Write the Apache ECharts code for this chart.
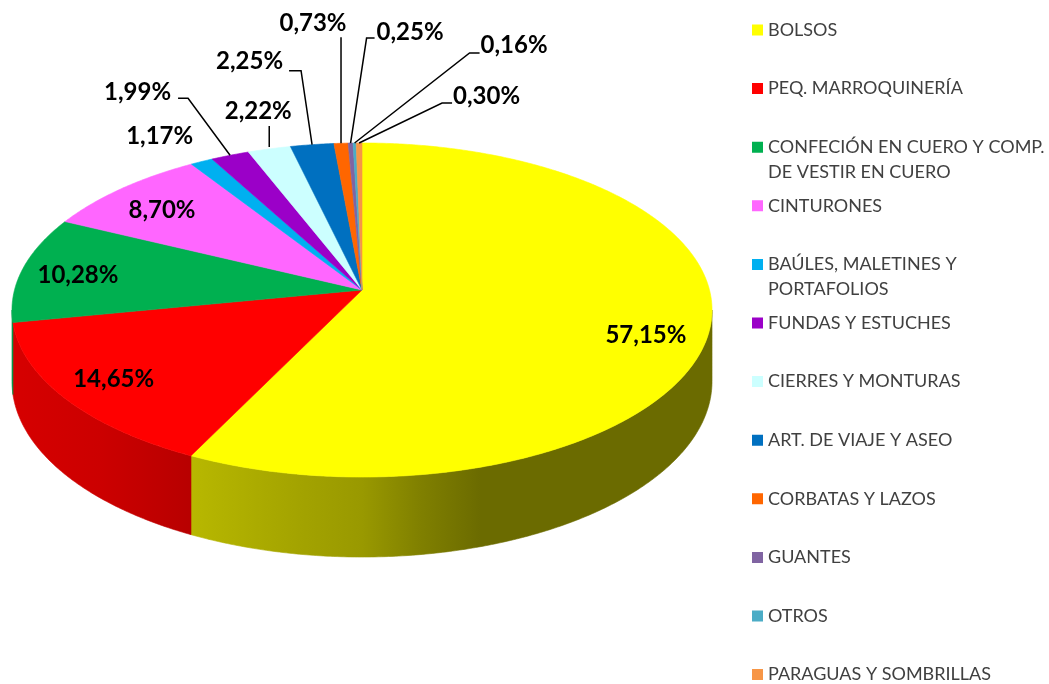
<!DOCTYPE html>
<html><head><meta charset="utf-8">
<script src="https://cdn.jsdelivr.net/npm/echarts@6/dist/echarts.min.js"></script>
<style>html,body{margin:0;padding:0;background:#fff}#c{width:1049px;height:684px}</style>
</head><body><div id="c"></div>
<script>
// ---- data ----
const categories = [
  'BOLSOS',
  'PEQ. MARROQUINERÍA',
  'CONFECIÓN EN CUERO Y COMP.\nDE VESTIR EN CUERO',
  'CINTURONES',
  'BAÚLES, MALETINES Y\nPORTAFOLIOS',
  'FUNDAS Y ESTUCHES',
  'CIERRES Y MONTURAS',
  'ART. DE VIAJE Y ASEO',
  'CORBATAS Y LAZOS',
  'GUANTES',
  'OTROS',
  'PARAGUAS Y SOMBRILLAS'
];
const shares = [57.15, 14.65, 10.28, 8.70, 1.17, 1.99, 2.22, 2.25, 0.73, 0.25, 0.16, 0.30];

// ---- styles ----
const colors = ['#FFFF00','#FF0000','#00B050','#FF66FF','#00B0F0','#9B00C8','#CCFFFF','#0070C0','#FF6600','#8064A2','#4BACC6','#F79646'];
// perspective pie geometry (layout)
const G = {cx: 362, cy: 290, A: 347.5, B: 129.9, q: 0.1198, T: 70.4, x0: 12, x1: 712};
// side-wall lighting across the pie width: [offset, brightness]
const wallLight = [[0,0.84],[0.126,0.80],[0.254,0.72],[0.411,0.64],[0.5,0.60],[0.583,0.50],[0.669,0.42],[1,0.42]];
// label placement (layout, relative to slice)
const labelLayout = [
  {r: 0.82, d: [0, 14]},
  {r: 0.82, d: [-8, 2]},
  {r: 0.82, d: [-5, 2]},
  {r: 0.82, d: [0, 4]},
  {text: [-42, -25], align: 'center'},
  {line: [[-42, -57], [-52, -57]], text: [-59, -63], align: 'right'},
  {start: [0, -2], line: [[0, -23]], text: [-11, -38], align: 'center'},
  {line: [[-11, -74], [-23, -74]], text: [-29, -83], align: 'right'},
  {line: [[0, -106]], text: [-28, -120], align: 'center'},
  {line: [[16, -105], [24, -105]], text: [26, -111], align: 'left'},
  {line: [[115, -90], [125, -90]], text: [126, -98], align: 'left'},
  {line: [[83, -40], [93, -40]], text: [94, -47], align: 'left'}
];

const total = shares.reduce((a, b) => a + b, 0);
const cumStart = shares.map((_, i) => shares.slice(0, i).reduce((a, b) => a + b, 0));

function proj(th, r, d) {
  const u = r * Math.sin(th), v = -r * Math.cos(th), w = 1 - G.q * v;
  return [G.cx + G.A * u / w, (G.cy + G.B * v + d) / w];
}
function shade(hex, k) {
  const n = parseInt(hex.slice(1), 16);
  const r = Math.round(((n >> 16) & 255) * k), g = Math.round(((n >> 8) & 255) * k), b = Math.round((n & 255) * k);
  return 'rgb(' + r + ',' + g + ',' + b + ')';
}
function arc(a1, a2, r, d) {
  const n = Math.max(2, Math.ceil((a2 - a1) / (Math.PI / 360)));
  const pts = [];
  for (let k = 0; k <= n; k++) pts.push(proj(a1 + (a2 - a1) * k / n, r, d));
  return pts;
}
const frontA = Math.acos(-G.q), frontB = 2 * Math.PI - Math.acos(-G.q);

function makeRender(i) {
  return function (params, api) {
    const val = api.value(0);
    const a1 = cumStart[i] / total * 2 * Math.PI;
    const a2 = (cumStart[i] + val) / total * 2 * Math.PI;
    const col = colors[i];
    const children = [];
    // side wall (front-facing part)
    const wa = Math.max(a1, frontA), wb = Math.min(a2, frontB);
    if (wa < wb) {
      const top = arc(wa, wb, 1, 0);
      const bot = arc(wa, wb, 1, G.T).reverse();
      const fill = {
        type: 'linear', x: G.x0, y: 0, x2: G.x1, y2: 0, global: true,
        colorStops: wallLight.map(s => ({offset: s[0], color: shade(col, s[1])}))
      };
      children.push({type: 'polygon', z2: 1, shape: {points: top.concat(bot)}, style: {fill: fill, stroke: fill, lineWidth: 0.6}});
    }
    // top face
    const face = [proj(0, 0, 0)].concat(arc(a1, a2, 1, 0));
    children.push({type: 'polygon', z2: 2, shape: {points: face}, style: {fill: col, stroke: col, lineWidth: 0.6}});
    // label
    const L = labelLayout[i];
    const txt = val.toFixed(2).replace('.', ',') + '%';
    const mid = (a1 + a2) / 2;
    if (L.r) {
      const p = proj(mid, L.r, 0);
      children.push({type: 'text', z2: 5, x: p[0] + L.d[0], y: p[1] + L.d[1],
        style: {text: txt, fill: '#000', font: 'bold 24px Lato', align: 'center', verticalAlign: 'middle'}});
    } else {
      const e = proj(mid, 1, 0);
      if (L.line) {
        const s = L.start || [0, 0];
        const pts = [[e[0] + s[0], e[1] + s[1]]].concat(L.line.map(o => [e[0] + o[0], e[1] + o[1]]));
        children.push({type: 'polyline', z2: 4, shape: {points: pts}, style: {stroke: '#000', lineWidth: 1.5, fill: null}});
      }
      children.push({type: 'text', z2: 5, x: e[0] + L.text[0], y: e[1] + L.text[1],
        style: {text: txt, fill: '#000', font: 'bold 24px Lato', align: L.align, verticalAlign: 'middle'}});
    }
    return {type: 'group', children: children};
  };
}

const series = categories.map((name, i) => ({
  type: 'custom',
  name: name,
  coordinateSystem: 'none',
  silent: true,
  itemStyle: {color: colors[i]},
  data: [[shares[i]]],
  renderItem: makeRender(i)
}));

const chart = echarts.init(document.getElementById('c'), null, {renderer: 'canvas'});
chart.setOption({
  animation: false,
  backgroundColor: '#fff',
  legend: {
    orient: 'vertical', left: 752, top: 17.5, padding: 0,
    width: 300, height: 2000,
    itemWidth: 11, itemHeight: 36, itemGap: 8.6,
    icon: 'path://M0,0L11,0L11,11L0,11Z M0,36L11,36',
    itemStyle: {borderWidth: 0},
    textStyle: {fontFamily: 'Lato', fontSize: 18, color: '#404040', lineHeight: 25},
    formatter: n => n.indexOf('\n') >= 0 ? n : n + '\n ',
    data: categories,
    selectedMode: false
  },
  series: series
});
</script></body></html>
